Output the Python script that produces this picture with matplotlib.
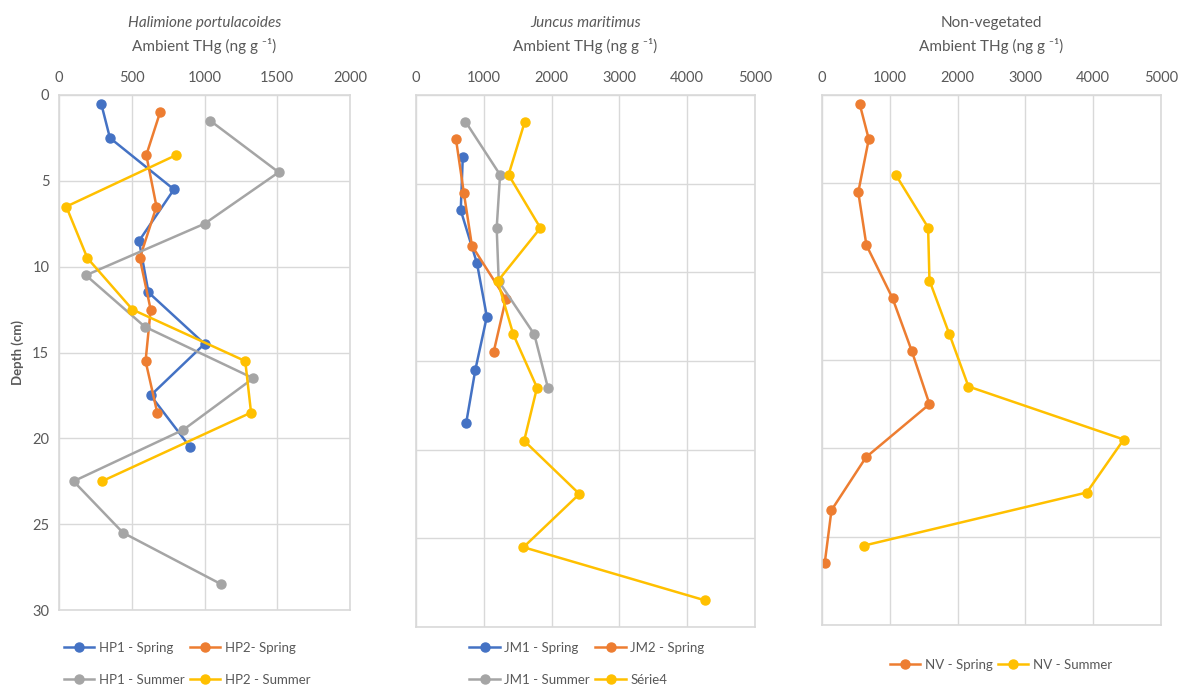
import matplotlib
matplotlib.use("Agg")
import matplotlib.pyplot as plt

plt.rcParams['font.family'] = ['Lato', 'DejaVu Sans']

BLUE = '#4472C4'
ORANGE = '#ED7D31'
GRAY = '#A5A5A5'
YELLOW = '#FFC000'
TXT = '#595959'
GRID = '#D9D9D9'

# Halimione portulacoides
hp1_spring_depth = [0.5, 2.5, 5.5, 8.5, 11.5, 14.5, 17.5, 20.5]
hp1_spring = [290, 350, 790, 550, 615, 1000, 630, 900]
hp2_spring_depth = [1, 3.5, 6.5, 9.5, 12.5, 15.5, 18.5]
hp2_spring = [695, 600, 670, 555, 630, 595, 675]
hp1_summer_depth = [1.5, 4.5, 7.5, 10.5, 13.5, 16.5, 19.5, 22.5, 25.5, 28.5]
hp1_summer = [1040, 1510, 1000, 185, 590, 1335, 855, 100, 440, 1115]
hp2_summer_depth = [3.5, 6.5, 9.5, 12.5, 15.5, 18.5, 22.5]
hp2_summer = [805, 50, 195, 505, 1280, 1320, 295]

# Juncus maritimus
jm1_spring_depth = [3.5, 6.5, 9.5, 12.5, 15.5, 18.5]
jm1_spring = [690, 660, 900, 1045, 875, 740]
jm2_spring_depth = [2.5, 5.5, 8.5, 11.5, 14.5]
jm2_spring = [590, 705, 825, 1325, 1145]
jm1_summer_depth = [1.5, 4.5, 7.5, 10.5, 13.5, 16.5]
jm1_summer = [730, 1240, 1190, 1220, 1745, 1945]
serie4_depth = [1.5, 4.5, 7.5, 10.5, 13.5, 16.5, 19.5, 22.5, 25.5, 28.5]
serie4 = [1605, 1365, 1835, 1205, 1435, 1785, 1595, 2410, 1585, 4265]

# Non-vegetated
nv_spring_depth = [0.5, 2.5, 5.5, 8.5, 11.5, 14.5, 17.5, 20.5, 23.5, 26.5]
nv_spring = [555, 690, 535, 655, 1040, 1325, 1585, 650, 140, 40]
nv_summer_depth = [4.5, 7.5, 10.5, 13.5, 16.5, 19.5, 22.5, 25.5]
nv_summer = [1085, 1565, 1585, 1875, 2160, 4450, 3905, 625]

W, H = 1179, 685
fig = plt.figure(figsize=(W / 100, H / 100), dpi=100)


def box(left, right, top, bottom):
    return [left / W, 1 - bottom / H, (right - left) / W, (bottom - top) / H]


def style(ax, xmax, xstep, title, italic, ylabels):
    ax.set_xlim(0, xmax)
    ax.set_ylim(30, 0)
    ax.set_xticks(range(0, xmax + 1, xstep))
    ax.set_yticks(range(0, 31, 5))
    ax.xaxis.tick_top()
    ax.tick_params(length=0, labelsize=10.5, labelcolor=TXT, pad=7)
    if not ylabels:
        ax.set_yticklabels([])
    ax.grid(True, color=GRID, lw=1)
    ax.set_axisbelow(True)
    for s in ax.spines.values():
        s.set_color(GRID)
        s.set_linewidth(1.2)
    ax.annotate(title, (0.5, 1), xycoords='axes fraction', xytext=(0, 52),
                textcoords='offset points', ha='center', va='center',
                fontsize=11, color=TXT, style='italic' if italic else 'normal')
    ax.annotate('Ambient THg (ng g ⁻¹)', (0.5, 1),
                xycoords='axes fraction', xytext=(0, 35),
                textcoords='offset points', ha='center', va='center',
                fontsize=11, color=TXT)


def series(ax, x, y, c, label):
    return ax.plot(x, y, color=c, lw=1.8, marker='o', ms=6.5, label=label)[0]


def legend(handles, cx, cy, ncol):
    fig.legend(handles=handles, loc='center', ncol=ncol,
               bbox_to_anchor=(cx / W, 1 - cy / H), frameon=False,
               fontsize=9.5, labelcolor=TXT, handlelength=2.3,
               handletextpad=0.35, columnspacing=0.4, labelspacing=1.5)


# Panel 1
ax1 = fig.add_axes(box(59, 350, 95, 610))
style(ax1, 2000, 500, 'Halimione portulacoides', True, True)
h1 = series(ax1, hp1_spring, hp1_spring_depth, BLUE, 'HP1 - Spring')
h2 = series(ax1, hp2_spring, hp2_spring_depth, ORANGE, 'HP2- Spring')
h3 = series(ax1, hp1_summer, hp1_summer_depth, GRAY, 'HP1 - Summer')
h4 = series(ax1, hp2_summer, hp2_summer_depth, YELLOW, 'HP2 - Summer')
ax1.set_ylabel('Depth (cm)', fontsize=9.5, fontweight='bold', color=TXT, labelpad=6)
legend([h1, h3, h2, h4], 187, 664, 2)

# Panel 2
ax2 = fig.add_axes(box(416, 755, 95, 627))
style(ax2, 5000, 1000, 'Juncus maritimus', True, False)
j1 = series(ax2, jm1_spring, jm1_spring_depth, BLUE, 'JM1 - Spring')
j2 = series(ax2, jm2_spring, jm2_spring_depth, ORANGE, 'JM2 - Spring')
j3 = series(ax2, jm1_summer, jm1_summer_depth, GRAY, 'JM1 - Summer')
j4 = series(ax2, serie4, serie4_depth, YELLOW, 'Série4')
legend([j1, j3, j2, j4], 587, 664, 2)

# Panel 3
ax3 = fig.add_axes(box(822, 1161, 95, 625))
style(ax3, 5000, 1000, 'Non-vegetated', False, False)
n1 = series(ax3, nv_spring, nv_spring_depth, ORANGE, 'NV - Spring')
n2 = series(ax3, nv_summer, nv_summer_depth, YELLOW, 'NV - Summer')
legend([n1, n2], 1001, 665, 2)

fig.savefig('out.png', dpi=100)
